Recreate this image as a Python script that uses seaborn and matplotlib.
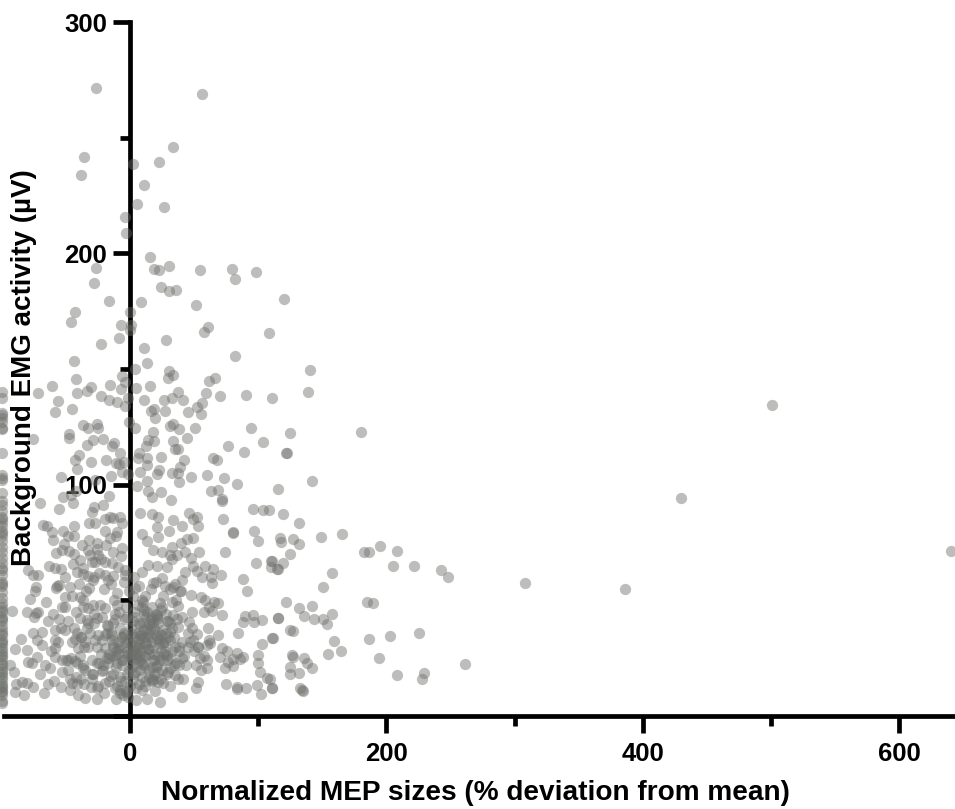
import matplotlib
matplotlib.use("Agg")
import matplotlib.pyplot as plt
import pandas as pd
import seaborn as sns

# values, x = MEP deviation (%), y = background EMG (uV)
far_x = [500.8, 430, 640.4, 308, 386]
far_y = [134.5, 94.3, 71.3, 57.5, 54.9]

# points piled up at the -100 floor
floor_y = [140, 137.5, 131, 129, 127, 124.5, 113.7, 104, 102, 96.4,
           93, 91, 88.5, 86, 84, 82, 80, 78, 75.5, 73,
           71, 68.5, 66, 64, 61, 58, 56, 53.5, 51, 49,
           47, 45, 43, 41, 39, 37, 35, 33, 31, 29.5,
           28, 26, 24.5, 22, 20.5, 19, 17, 15.5, 14, 12,
           10.5, 9, 6.5, 5.5, 130, 124, 103, 85, 79, 63,
           57, 46, 42, 36, 32, 27, 23, 18, 13, 11]

top_x = [-26.5, 56.2, 33.8, -35.6, 2, 22.6, -38.2, 11, 5.5, 26.6,
         -3.9, -3, 15.6, -26.5, 30.4, 18.7, 22.6, 54.6, 79.6, 98.3,
         81.9, -27.8, 24.4, 30.7, 35.6, 120.4, -16.1, 8.8, 51.7, -42.6,
         0, -46.3, -7, 0.5, 60.6, 58, 108.7, 0, -8.6, 27.8,
         -22.6, 11.2, 81.6, -43.7, 13.3, 4.2, 30.4, 140.7, 33.5, -6.2,
         29.4, -42.1, 66, 61.6, -3.9, -60.6, -15.6, -30.7, 15.9, 4.7,
         -7, -33.5, -71.5, -41.6, 37.4, 138.6, 59, -22.9, 70.2, 90.5,
         111, -16.6, -1.3, 11.2, 26.3, 33, 41.1, -55.9, -10.4, 56.4]
top_y = [271.5, 269, 246, 241.7, 238.6, 239.5, 234, 229.6, 221.4, 220,
         215.7, 208.8, 198.4, 193.7, 194.6, 193.2, 192.8, 192.8, 193.2, 192,
         189, 187, 185.6, 183.7, 184.2, 180.4, 179.4, 179, 177.8, 174.5,
         174.8, 170.2, 169, 169, 168, 166.2, 165.7, 166.9, 163.4, 162.6,
         160.8, 159, 155.8, 153.6, 152.8, 150.2, 149.2, 149.4, 147.6, 146.9,
         146, 145.6, 146.3, 144.8, 144.3, 142.8, 143.1, 142.2, 142.8, 141.8,
         141.5, 140.7, 139.5, 139.7, 140.2, 140.2, 139.7, 138.5, 138.5, 138.8,
         137.6, 136.6, 137.3, 136.6, 136.6, 137.5, 136.8, 136.2, 135.6, 135.3]

mid_x = [-4.2, 52, -45.2, 19, 16.6, -58.8, 27.6, 45, 55.4, 19.2,
         -0.8, -36.4, -25.7, -32.5, -24.7, 3.9, 33.5, 31.2, 38, 50.7,
         94.1, 17.9, -47.3, 124.8, -47.6, -21.1, 44.5, -28.9, 13.8, -75.9,
         18.7, 33.8, -12.2, 104, -33.5, -14.3, 12.7, 76.2, 34.8, 37.4,
         -7.8, 6.8, 88.7, 122, -39.5, 13.3, 23.9, 65, 67.6, -42.6,
         -30.4, -18.7, 6.5, 42.4, -10.9, -8.8, 13.3, -4.7, -41.6, 39.3,
         22.4, -6.5, 7.8, 21, 33, 37.2, -14.6, -53.8, 47.6, 59.8,
         73.3, -1.3, 13, 38.2, 83.2, 141.7, -27.5, -42.1, 5.2, 14,
         23.9, 63.4, 68.4, 115.7, -52, -16.1, 16.9, 31.7, 71.5, -46]
mid_y = [134, 133.7, 132.7, 132.7, 131.9, 131.3, 131.9, 131.6, 130.4, 129,
         127.3, 125.7, 126.4, 124.4, 124.7, 124.7, 126.3, 125.4, 124.1, 124.4,
         124.4, 122.9, 122, 122.5, 120.3, 119.8, 120.2, 119.3, 119.3, 119.6,
         118.8, 118.8, 118.2, 118.5, 117, 116.7, 116.9, 116.9, 115.6, 115.4,
         113.9, 113.9, 114, 113.6, 112.7, 111.7, 112.1, 111.7, 110.7, 110.5,
         109.8, 110.5, 111.4, 110.7, 109.4, 108.8, 108.4, 110, 106.8, 107.7,
         106.4, 105.6, 105.6, 104.5, 104.9, 104.9, 103.9, 103.3, 103.3, 104,
         102.9, 104.5, 101.6, 101.3, 100.5, 101.8, 102, 97.4, 99.6, 97.4,
         96.9, 97.3, 97.7, 98.2, 94.8, 95.1, 94.8, 93.4, 93.7, 95.5]

left_x = [-70.2, -55.1, -44.2, -29.9, -27.8, -20.8, -15.6, -31.8, -27.3, -19.5,
          -13.5, -7.8, -6.5, -68.1, -64.5, -43.7, -61.1, -52.5, -10.4, -19.5,
          -15.6, -48.1, -43.7, -59.8, -51.5, -37.4, -26, -32.5, -58, -53.3,
          -47.6, -13, -6, -26, -31, -24.7, -29.9, -27.3, -19.5, -39,
          -44.7, -62.9, -58.5, -53.8, -79.3, -75.9, -72, -41.6, -36.4, -32.5,
          -19.5, -13, -16.9, -3.9, -9.1, -73.3, -74.1, -55.1, -57.6, -46.8,
          -31.8, -77.9, -39, -50.7, -65.8, -36.4, -28.6, -23.4, -53.3, -50.7,
          -32.5, -19.5, -91.8, -80.6, -73.3, -71.5, -74.6, -64.2, -55.1, -39,
          -33.8, -26, -58.2, -50.7, -33.8, -18.2, -75.4, -68.9, -41.6, -24.7,
          -19.5, -14.3, -85.3, -72.3, -58.5, -68.4, -58.5, -45.5, -43, -89.7,
          -80.6, -40.8, -35.8, -19.5, -7.8, -13, -79.3, -76.7, -72.8, -58.5,
          -53, -48, -43, -36.4, -26, -24.5, -10.4, -5.5, -93.6, -90.2,
          -70.2, -62.4, -48, -36.5, -84.5, -80.6, -75.9, -89.2, -63.7, -54.1,
          -45.5, -47, -30.4, -19.5, -89.7, -67.1, -82.7, -40.8, -35.1, -26,
          -20.3, -11.2, -1.3, -8, -3, -42, -38, -29, -22, -15]
left_y = [92, 89.5, 92.2, 88.4, 90.2, 91.2, 86.2, 83.6, 83.6, 85,
          85.5, 86.2, 83.3, 82.6, 82.2, 82.2, 79.7, 80.1, 79.7, 80.1,
          76.8, 77.8, 78, 76.1, 74.2, 74, 74.7, 71.8, 70.6, 71.8,
          71.5, 71, 72.5, 72, 69.6, 69.6, 66.7, 66.7, 66.7, 67.5,
          65.7, 64.9, 63.9, 63.4, 62.9, 61, 61, 62.4, 61.4, 60.5,
          61, 60.5, 58.8, 61, 64.6, 55.9, 54.2, 56.6, 55.2, 55.9,
          55.2, 50.7, 51.6, 51.6, 49.2, 50.2, 48, 48, 47, 47,
          46.6, 46.6, 45.6, 44.8, 44.7, 45, 42.7, 41.1, 41.8, 42.2,
          41.5, 42.2, 37.2, 37.2, 37.9, 39.4, 35.7, 36.5, 35.7, 35,
          35, 35, 33.2, 32.9, 33, 30.7, 29.3, 32.2, 33.5, 29,
          28.6, 29.3, 30, 29.3, 30, 30, 23.5, 22.8, 25.7, 25.7,
          24.2, 24.2, 23.9, 22.1, 22.8, 22.9, 22.8, 24.2, 22.1, 18.9,
          18.2, 20.6, 19.9, 20.6, 14.9, 14.2, 12.7, 13.9, 13.9, 12.4,
          14.4, 11.3, 12.4, 14.2, 10.5, 9.8, 9.1, 9.1, 7.7, 7.4,
          9.8, 7.2, 8.4, 11.3, 10.5, 17, 16, 18, 19.5, 17.5]

right_x = [96.2, 104, 108.7, 71.5, 46.3, 52.5, 48.9, 53.3, 33.8, 40.3,
           72.8, 80.1, 80.4, 97, 100.1, 30.4, 20.8, 22.1, 16.9, 7.8,
           22.1, 9.1, 13, 49.4, 44.2, 39.5, 33, 53.8, 18.2, 24.7,
           73.8, 31.2, 36.4, 42.9, 47.3, 32.5, 98.3, 110, 109.7, 114.4,
           58.5, 65, 49, 28.6, 14.3, 20.8, 42.9, 52.5, 9.1, 71,
           55.9, 62.9, 63.7, 40.8, 24.7, 87.9, 91, 33.3, 27.3, 39,
           3.9, 18.2, 47.3, 55.1, 65.8, 68.4, 58.5, 61.9, 63.7, 71.5,
           48.6, 57.7, 32.5, 37.7, 23.4, 10.4, 9.1, 16.9, 20.8, 33.8,
           40.3, 89.7, 95.7, 88.4, 96.7, 102.7, 115.2, 46.3, 37.7, 60.6,
           31.2, 84.5, 52, 68.9, 111, 103.2, 7.8, 18.2, 20.8, 7.8,
           40.3, 49.4, 62.4, 59.8, 71.5, 75.4, 53.3, 45.5, 100.1, 70.2,
           88.4, 83.2, 80.6, 76.7, 85.8, 40.3, 28.6, 54.6, 100.1, 51.5,
           59.8, 74.1, 80.6, 31.2, 38.2, 101.4, 106.6, 35.1, 37.2, 53.3,
           51.5, 26, 31.2, 74.9, 83.2, 83.4, 90.5, 98.8, 110.5, 101.9,
           40.8, 23.1, 13.5, 4.7, 9.1, 18.2, 22.1]
right_y = [89.5, 89, 89, 93, 87.9, 85.9, 85, 82.2, 84.8, 82.3,
           85, 79.7, 79.3, 80.1, 75.7, 80.1, 81.9, 86.2, 87.3, 87.6,
           77.5, 78.6, 75.8, 76.8, 76.4, 74.7, 73.2, 71, 71.8, 70.8,
           71, 69.6, 69.6, 70.8, 68.5, 67.8, 66.3, 67, 64.2, 63.6,
           64.9, 63.6, 65, 64.6, 65.3, 65, 62.4, 62.8, 62.4, 60.8,
           60, 60.3, 57.4, 58.8, 59.5, 59.1, 54, 55.9, 56.2, 54.2,
           55.2, 57.4, 52.3, 51.6, 49.4, 49, 50.2, 47, 45.4, 43.7,
           45.1, 44.8, 49.4, 47.6, 48.7, 49.4, 47.3, 43, 43.7, 43.7,
           43, 43.4, 43.7, 40.8, 40.5, 41.5, 42.2, 40.8, 38.6, 37.9,
           36.5, 36, 35.3, 35, 33.6, 31, 39.4, 40, 33.6, 33.6,
           32.2, 32.9, 31.4, 30.7, 29.3, 28.1, 30, 30, 26.4, 25.7,
           25.7, 27.1, 24.5, 23.5, 24.5, 25, 26.4, 25, 22.8, 22.1,
           20.9, 20.6, 21.8, 20.6, 22.1, 19.2, 16.3, 17.8, 15.9, 14.9,
           12.3, 14.2, 13.1, 13.9, 12.7, 11.7, 12.3, 13.3, 12, 9.7,
           8.1, 6.2, 7.2, 6.9, 11.3, 15.6, 14.9]

tail_x = [180.2, 122.2, 119.6, 131.8, 117, 117.8, 126.9, 131.8, 148.7, 165.6,
          182.8, 186.2, 194.7, 208.3, 204.9, 221.3, 242.8, 247.8, 124.5, 119.1,
          110.5, 115.2, 157.3, 150.3, 184.6, 189.3, 121.7, 131.8, 141.7, 135.7,
          115.7, 143.3, 150.3, 157.6, 153.4, 124.5, 127.4, 111.3, 158.9, 186.4,
          202.5, 225.7, 164.8, 154.4, 126.6, 126.9, 135.7, 194, 138.3, 142.2,
          124.8, 131.8, 125.1, 261.6, 208.3, 229.3, 228, 109.2, 110.5, 132.6,
          134.2, 135.2]
tail_y = [122.9, 113.5, 87.3, 83.3, 76.8, 75.4, 76.4, 74.4, 77.4, 78.5,
          71, 70.7, 73.3, 71.2, 64.8, 65, 63.3, 60, 70.2, 66.3,
          67, 63.7, 61.8, 55.9, 49.3, 49, 49.4, 46.7, 47.6, 43.4,
          42.2, 42.1, 42.1, 44, 39.6, 37.2, 36.6, 33.6, 32.6, 33.3,
          34.6, 36, 28, 26.7, 26.4, 25.5, 24.9, 24.9, 22.8, 20.9,
          21.2, 18.7, 18.3, 22.5, 17.9, 18.6, 15.8, 16.1, 11.9, 12.1,
          11.2, 11]

# the dense knot around the y axis
core_x = [-12, -8, -3, 2, 6, 11, 16, 20, 25, 29,
          -14, -9, -5, 1, 4, 8, 13, 18, 23, 27,
          -11, -6, -2, 3, 7, 10, 15, 19, 24, 31,
          -13, -7, -1, 2.5, 5.5, 9, 12, 17, 21, 26,
          -10, -4, 0.5, 3.5, 6.5, 10.5, 14, 16.5, 22, 28,
          -15, -9.5, -4.5, 1.5, 5, 8.5, 12.5, 15.5, 20.5, 25.5,
          -6.5, -2.5, 0, 4.5, 7.5, 11.5, 14.5, 19.5, 24.5, 30,
          -12.5, -8.5, -3.5, 2, 6, 9.5, 13.5, 17.5, 22.5, 33,
          -5, -1.5, 1, 3, 7, 10, 12, 16, 21.5, 35,
          -16, -11, -7.5, -0.5, 4, 8, 13, 18.5, 23.5, 27.5,
          -13.5, -6, -2, 2.8, 5.8, 9.8, 11, 15, 20, 26.5,
          -10.5, -4, 1.2, 6.8, 10.8, 14.8, 19, 24, 29.5, 32,
          -8, -3, 3.2, 7.2, 12.2, 17, 22, 28.5, 34, 38,
          -17, -12, -5.5, 0.8, 5.2, 11.8, 16.8, 21, 25, 36]
core_y = [44, 38, 47, 41, 36, 46, 39, 44, 37, 41,
          33, 29, 35, 31, 43, 28, 34, 30, 33, 28,
          26, 22, 28, 24, 31, 22, 27, 24, 28, 33,
          18, 15, 20, 16, 25, 17, 21, 15, 22, 24,
          48, 42, 38, 45, 33, 40, 36, 42, 40, 36,
          36, 32, 30, 36, 27, 35, 31, 37, 35, 31,
          24, 18, 13, 12, 20, 13, 17, 11, 16, 19,
          50, 45, 43, 52, 48, 50, 45, 47, 31, 38,
          36, 27, 25, 34, 40, 30, 26, 34, 26, 30,
          27, 21, 17, 33, 19, 24, 38, 27, 24, 32,
          40, 34, 32, 29, 23, 37, 34, 29, 21, 27,
          13, 15, 21, 14, 26, 20, 18, 35, 41, 25,
          10, 11, 18, 26, 43, 21, 19, 24, 34, 28,
          23, 12, 9, 27, 30, 15, 32, 43, 47, 23]

# more of the lower left cloud and the knot, where marks overlap too much to separate
fill_x = [-62, -56, -50, -44, -38, -33, -28, -23, -18, -14,
          -66, -59, -53, -47, -41, -36, -30, -25, -21, -16,
          -60, -54, -48, -42, -37, -31, -27, -22, -17, -12,
          -57, -51, -45, -40, -34, -29, -24, -20, -15, -10,
          -46, -39, -35, -30, -26, -22, -18, -13, -9, -6,
          -44, -37, -32, -28, -23, -19, -14, -11, -7, -4,
          38, 42, 45, 31, 34, 28, 24, 36, 40, 47,
          33, 26, 30, 19, 15, 21, 11, 6, 2, -2,
          29, 25, 18, 12, 8, 4, 14, 9, 17, 23,
          44, 50, 55, 58, 62, 48, 41, 37, 53, 60,
          -30, -35, -41, -26, -21, -16, -11, -38, -33, -28,
          -5, -1, 3, 7, 12, 16, 20, 26, 31, 35]
fill_y = [28, 32, 24, 38, 34, 30, 40, 27, 36, 26,
          22, 15, 19, 16, 23, 14, 18, 13, 20, 15,
          44, 38, 41, 45, 47, 36, 33, 43, 39, 42,
          56, 60, 52, 57, 54, 59, 62, 55, 57, 53,
          25, 26, 32, 24, 30, 33, 25, 31, 27, 34,
          70, 64, 76, 60, 68, 74, 66, 78, 69, 63,
          30, 26, 36, 40, 22, 44, 46, 50, 54, 32,
          28, 32, 34, 38, 40, 42, 44, 30, 28, 26,
          18, 20, 24, 32, 35, 27, 29, 23, 16, 36,
          22, 28, 20, 26, 33, 38, 16, 42, 30, 24,
          16, 20, 14, 12, 22, 25, 28, 34, 40, 44,
          58, 54, 60, 56, 52, 55, 58, 52, 55, 57]

x_major = [0, 200, 400, 600]
x_minor = [100, 300, 500]
y_major = [0, 100, 200, 300]
y_minor = [50, 150, 250]
y_labels = ["", "100", "200", "300"]

FONT = "Liberation Sans"
W, H = 955, 809

df = pd.DataFrame({
    "mep": far_x + [-100] * len(floor_y) + top_x + mid_x + left_x + right_x + tail_x + core_x + fill_x,
    "emg": far_y + floor_y + top_y + mid_y + left_y + right_y + tail_y + core_y + fill_y,
})

sns.set_theme(style="white")
plt.rcParams["font.family"] = [FONT, "DejaVu Sans"]

fig = plt.figure(figsize=(W / 100, H / 100), dpi=100)
ax = fig.add_axes([0, (H - 716) / H, 1, (716 - 22) / H])

sns.scatterplot(data=df, x="mep", y="emg", ax=ax, color="#6e706c", alpha=0.45,
                s=66, linewidth=0, zorder=5, legend=False)

ax.set_xlim(-130 / 1.282, 825 / 1.282)
ax.set_ylim(0, 300)
ax.patch.set_alpha(0)

for side in ("top", "right"):
    ax.spines[side].set_visible(False)
ax.spines["left"].set_position(("data", 0))
ax.spines["bottom"].set_position(("data", 0))
ax.spines["bottom"].set_bounds(-98, 825 / 1.282)
for side in ("left", "bottom"):
    ax.spines[side].set_linewidth(3.4)
    ax.spines[side].set_color("black")
    ax.spines[side].set_zorder(1)
ax.set_axisbelow(True)

ax.set_xticks(x_major)
ax.set_xticks(x_minor, minor=True)
ax.set_yticks(y_major, labels=y_labels)
ax.set_yticks(y_minor, minor=True)
ax.tick_params(which="both", bottom=True, left=True, color="black", width=3.4)
ax.tick_params(which="major", length=12.5)
ax.tick_params(which="minor", length=7.5)
ax.tick_params(axis="x", which="major", pad=6)
ax.tick_params(axis="y", which="major", pad=4)
ax.tick_params(labelsize=18.5, labelcolor="black")
for lab in ax.get_xticklabels() + ax.get_yticklabels():
    lab.set_fontweight("bold")

ax.set_xlabel("")
ax.set_ylabel("")
fig.text(475 / W, 1 - 793 / H, "Normalized MEP sizes (% deviation from mean)",
         ha="center", va="center", fontsize=20.2, fontweight="bold", color="black")
fig.text(24 / W, 1 - 368 / H, "Background EMG activity (\u00b5V)", rotation=90,
         ha="center", va="center", fontsize=20, fontweight="bold", color="black", zorder=0)

fig.savefig("out.png", dpi=100)
